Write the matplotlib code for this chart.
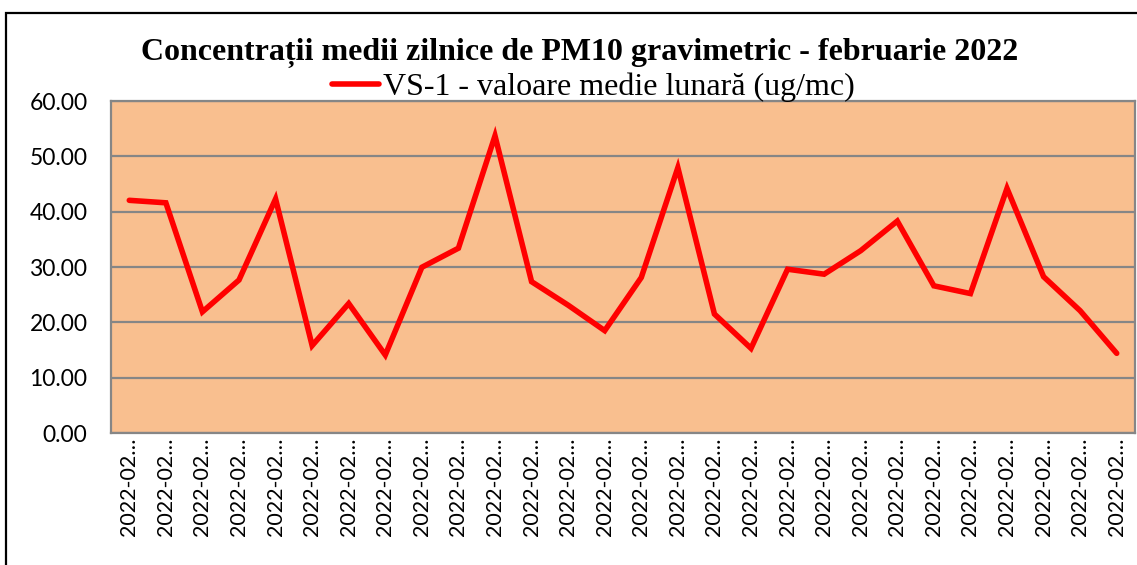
import matplotlib
matplotlib.use("Agg")
import matplotlib.pyplot as plt
from matplotlib.patches import Rectangle

# zilele lunii februarie 2022
zile = ["2022-02-%02d" % d for d in range(1, 29)]
# VS-1 - concentratii medii zilnice PM10 (ug/mc)
vs1 = [42.05, 41.6, 21.9, 27.65, 42.3, 15.8, 23.4, 14.1, 29.95, 33.4,
       53.7, 27.35, 23.1, 18.5, 28.1, 47.95, 21.5, 15.3, 29.6, 28.7,
       32.95, 38.3, 26.6, 25.2, 44.2, 28.25, 22.1, 14.4]
y_ticks = [0, 10, 20, 30, 40, 50, 60]

W, H = 1137, 565
fig = plt.figure(figsize=(W / 100, H / 100), dpi=100)
ax = fig.add_axes([111 / W, 1 - 433 / H, 1024 / W, 332 / H])

x = list(range(len(zile)))
ax.plot(x, vs1, color="#FF0000", lw=4.0, solid_joinstyle="miter",
        solid_capstyle="round",
        label="VS-1 - valoare medie lunară (ug/mc)", zorder=3)

ax.set_facecolor("#F9BF8F")
ax.set_xlim(-0.5, len(zile) - 0.5)
ax.set_ylim(0, 60)
ax.set_yticks(y_ticks)
ax.set_yticklabels(["%.2f" % v for v in y_ticks], fontsize=16.5, family="Lato")
ax.yaxis.grid(True, color="#868686", lw=1.6)
ax.set_axisbelow(True)
ax.tick_params(axis="y", length=0, pad=17)
ax.set_xticks(x)
ax.set_xticklabels([z[:7] + "…" for z in zile], rotation=90, fontsize=15.5,
                   family=["Lato", "DejaVu Sans"], va="top")
ax.tick_params(axis="x", length=0, pad=3)
for s in ax.spines.values():
    s.set_color("#868686")
    s.set_linewidth(1.6)

fig.text(0.5 * (140 + 1020) / W, 1 - 53 / H,
         "Concentrații medii zilnice de PM10 gravimetric - februarie 2022",
         ha="center", va="center", fontsize=23, fontweight="bold",
         family="Liberation Serif")
leg = ax.legend(loc="center", bbox_to_anchor=(0.5 * (326 + 860) / W, 1 - 87 / H),
                bbox_transform=fig.transFigure, frameon=False,
                prop={"family": "Liberation Serif", "size": 23},
                handlelength=1.5, handletextpad=0.1, borderpad=0)

# chenarul negru al graficului
fig.patches.append(Rectangle((6 / W, -0.05), 1.1, 1 - 13 / H + 0.05,
                             transform=fig.transFigure, fill=False,
                             edgecolor="black", lw=1.6, clip_on=False))

fig.savefig("out.png", dpi=100)
